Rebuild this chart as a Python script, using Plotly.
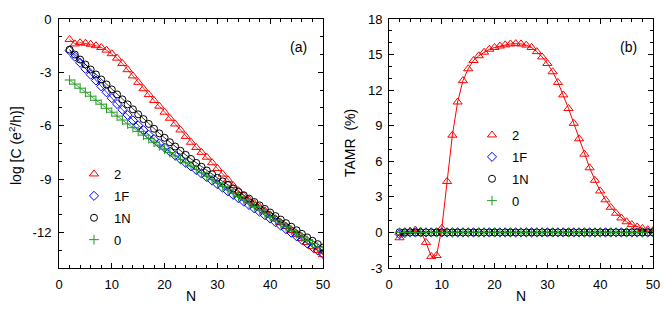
import plotly.graph_objects as go

# ---- data ----
N = [2, 3, 4, 5, 6, 7, 8, 9, 10, 11, 12, 13, 14, 15, 16, 17, 18, 19, 20, 21,
     22, 23, 24, 25, 26, 27, 28, 29, 30, 31, 32, 33, 34, 35, 36, 37, 38, 39, 40,
     41, 42, 43, 44, 45, 46, 47, 48, 49, 50]

logC_2 = [-1.15, -1.40, -1.33, -1.36, -1.42, -1.50, -1.60, -1.75, -1.95, -2.20,
          -2.50, -2.85, -3.20, -3.56, -3.92, -4.25, -4.58, -4.90, -5.24, -5.58,
          -5.90, -6.24, -6.60, -6.93, -7.22, -7.50, -7.77, -8.08, -8.40, -8.72,
          -9.04, -9.37, -9.66, -9.95, -10.18, -10.38, -10.57, -10.79, -11.01, -11.23,
          -11.45, -11.67, -11.89, -12.11, -12.34, -12.57, -12.80, -13.02, -13.25]
logC_1F = [-1.78, -2.12, -2.46, -2.80, -3.13, -3.46, -3.79, -4.12, -4.45, -4.78,
           -5.10, -5.40, -5.70, -5.98, -6.25, -6.51, -6.76, -7.00, -7.23, -7.45,
           -7.67, -7.88, -8.09, -8.29, -8.49, -8.69, -8.89, -9.09, -9.29, -9.49,
           -9.69, -9.89, -10.08, -10.27, -10.46, -10.65, -10.84, -11.03, -11.22, -11.42,
           -11.62, -11.82, -12.02, -12.22, -12.42, -12.62, -12.82, -13.01, -13.20]
logC_1N = [-1.72, -2.00, -2.28, -2.56, -2.84, -3.12, -3.40, -3.68, -3.96, -4.24,
           -4.52, -4.80, -5.08, -5.36, -5.63, -5.90, -6.17, -6.43, -6.68, -6.93,
           -7.17, -7.41, -7.64, -7.87, -8.09, -8.31, -8.52, -8.73, -8.93, -9.13,
           -9.33, -9.53, -9.72, -9.91, -10.10, -10.29, -10.48, -10.68, -10.88, -11.08,
           -11.28, -11.48, -11.68, -11.88, -12.08, -12.28, -12.47, -12.66, -12.85]
logC_0 = [-3.43, -3.66, -3.89, -4.12, -4.34, -4.57, -4.79, -5.02, -5.24, -5.46,
          -5.68, -5.90, -6.11, -6.32, -6.53, -6.73, -6.93, -7.13, -7.32, -7.51,
          -7.70, -7.89, -8.08, -8.27, -8.46, -8.65, -8.84, -9.03, -9.22, -9.41,
          -9.60, -9.79, -9.98, -10.17, -10.36, -10.55, -10.74, -10.93, -11.12, -11.31,
          -11.50, -11.69, -11.88, -12.07, -12.26, -12.45, -12.64, -12.83, -13.02]

tamr_2 = [-0.45, 0.05, 0.10, 0.20, 0.10, -0.84, -2.02, -1.95, 0.35, 4.30,
          8.20, 11.00, 12.80, 13.80, 14.50, 14.90, 15.20, 15.45, 15.60, 15.72,
          15.82, 15.90, 15.92, 15.90, 15.80, 15.60, 15.25, 14.80, 14.25, 13.55,
          12.65, 11.60, 10.45, 9.20, 7.90, 6.60, 5.45, 4.40, 3.50, 2.75,
          2.12, 1.62, 1.22, 0.90, 0.66, 0.47, 0.33, 0.23, 0.16]
tamr_1F = [-0.16, -0.05, 0.00, 0.00, 0.00, 0.00, 0.00, 0.00, 0.00, 0.00,
           0.00, 0.00, 0.00, 0.00, 0.00, 0.00, 0.00, 0.00, 0.00, 0.00,
           0.00, 0.00, 0.00, 0.00, 0.00, 0.00, 0.00, 0.00, 0.00, 0.00,
           0.00, 0.00, 0.00, 0.00, 0.00, 0.00, 0.00, 0.00, 0.00, 0.00,
           0.00, 0.00, 0.00, 0.00, 0.00, 0.00, 0.00, 0.00, 0.00]
tamr_1N = [0.02, 0.01, 0.00, 0.00, 0.00, 0.00, 0.00, 0.00, 0.00, 0.00,
           0.00, 0.00, 0.00, 0.00, 0.00, 0.00, 0.00, 0.00, 0.00, 0.00,
           0.00, 0.00, 0.00, 0.00, 0.00, 0.00, 0.00, 0.00, 0.00, 0.00,
           0.00, 0.00, 0.00, 0.00, 0.00, 0.00, 0.00, 0.00, 0.00, 0.00,
           0.00, 0.00, 0.00, 0.00, 0.00, 0.00, 0.00, 0.00, 0.00]
tamr_0 = [0.00, 0.00, 0.00, 0.00, 0.00, 0.00, 0.00, 0.00, 0.00, 0.00,
          0.00, 0.00, 0.00, 0.00, 0.00, 0.00, 0.00, 0.00, 0.00, 0.00,
          0.00, 0.00, 0.00, 0.00, 0.00, 0.00, 0.00, 0.00, 0.00, 0.00,
          0.00, 0.00, 0.00, 0.00, 0.00, 0.00, 0.00, 0.00, 0.00, 0.00,
          0.00, 0.00, 0.00, 0.00, 0.00, 0.00, 0.00, 0.00, 0.00]

series_names = ["2", "1F", "1N", "0"]
x_ticks = [0, 10, 20, 30, 40, 50]
x_ticktext = ["0", "10", "20", "30", "40", "50"]
yl_ticks = [-12, -9, -6, -3, 0]
yl_ticktext = ["-12", "-9", "-6", "-3", "0"]
yr_ticks = [-3, 0, 3, 6, 9, 12, 15, 18]
yr_ticktext = ["-3", "0", "3", "6", "9", "12", "15", "18"]

# ---- styles ----
FONT = "Liberation Sans, Arial, Helvetica, sans-serif"
styles = [
    dict(color="#ff0000", symbol="triangle-up-open", size=8),
    dict(color="#0000ff", symbol="diamond-open", size=7),
    dict(color="#000000", symbol="circle-open", size=7),
    dict(color="#1f9a1f", symbol="cross-thin-open", size=7),
]

fig = go.Figure()

left = [logC_2, logC_1F, logC_1N, logC_0]
right = [tamr_2, tamr_1F, tamr_1N, tamr_0]

def add_series(ys, name, st, xa, ya, leg, lw):
    fig.add_trace(go.Scatter(
        x=N, y=ys, mode="lines", showlegend=False,
        line=dict(color=st["color"], width=lw),
        xaxis=xa, yaxis=ya, hoverinfo="skip",
    ))
    fig.add_trace(go.Scatter(
        x=N, y=ys, name=name, mode="markers",
        marker=dict(symbol=st["symbol"], size=st["size"], color=st["color"],
                    line=dict(width=1, color=st["color"])),
        xaxis=xa, yaxis=ya, legend=leg, legendgroup=leg + name,
    ))

for i, (name, ys) in enumerate(zip(series_names, left)):
    add_series(ys, name, styles[i], "x", "y", "legend", 0.8)
for i, (name, ys) in enumerate(zip(series_names, right)):
    add_series(ys, name, styles[i], "x2", "y2", "legend2", 1)

W, H = 664, 319
def px(x):
    return x / W
def py(y):
    return 1 - y / H

axis_common = dict(
    showline=True, linecolor="black", linewidth=1, mirror="allticks",
    ticks="inside", ticklen=5, tickcolor="black", tickwidth=1,
    showgrid=False, zeroline=False, automargin=False,
    tickfont=dict(family=FONT, size=13, color="black"),
    tickmode="array",
)
minor_x = dict(tickmode="linear", tick0=0, dtick=2, ticks="inside",
               ticklen=3, tickcolor="black")
minor_y = dict(tickmode="linear", tick0=0, dtick=1, ticks="inside",
               ticklen=3, tickcolor="black")

def ann(text, x, y, size=14, angle=0):
    return dict(text=text, x=px(x), y=py(y), xref="paper", yref="paper",
                xanchor="center", yanchor="middle", showarrow=False,
                textangle=angle, font=dict(family=FONT, size=size, color="black"))

fig.update_layout(
    template="none",
    width=W, height=H,
    margin=dict(l=0, r=0, t=0, b=0, pad=0),
    paper_bgcolor="white", plot_bgcolor="white",
    font=dict(family=FONT, size=13, color="black"),
    xaxis=dict(domain=[px(59), px(323)], range=[0, 50], tickvals=x_ticks,
               ticktext=x_ticktext, anchor="y", ticklabelstandoff=4,
               minor=minor_x, **axis_common),
    yaxis=dict(domain=[py(268), py(19)], range=[-14, 0], tickvals=yl_ticks,
               ticktext=yl_ticktext, anchor="x", ticklabelstandoff=4,
               minor=minor_y, **axis_common),
    xaxis2=dict(domain=[px(389), px(653)], range=[0, 50], tickvals=x_ticks,
                ticktext=x_ticktext, anchor="y2", ticklabelstandoff=4,
                minor=minor_x, **axis_common),
    yaxis2=dict(domain=[py(268), py(19)], range=[-3, 18], tickvals=yr_ticks,
                ticktext=yr_ticktext, anchor="x2", ticklabelstandoff=3,
                minor=minor_y, **axis_common),
    legend=dict(x=px(74), y=py(159), xanchor="left", yanchor="top",
                bgcolor="rgba(0,0,0,0)", borderwidth=0, tracegroupgap=2,
                font=dict(family=FONT, size=13, color="black"), itemwidth=30),
    legend2=dict(x=px(472), y=py(120), xanchor="left", yanchor="top",
                 bgcolor="rgba(0,0,0,0)", borderwidth=0, tracegroupgap=2,
                 font=dict(family=FONT, size=13, color="black"), itemwidth=30),
    showlegend=True,
    annotations=[
        ann("(a)", 298, 47),
        ann("(b)", 628, 47),
        ann("N", 191, 296),
        ann("N", 521, 296),
        ann("log [C (e<sup>2</sup>/h)]", 15, 146, angle=-90),
        ann("TAMR\u00a0\u00a0(%)", 350, 143, angle=-90),
    ],
)

fig.write_html(
    "out.html",
    config={"displayModeBar": False},
    post_script="document.body.style.margin='0px';document.body.style.padding='0px';",
)
